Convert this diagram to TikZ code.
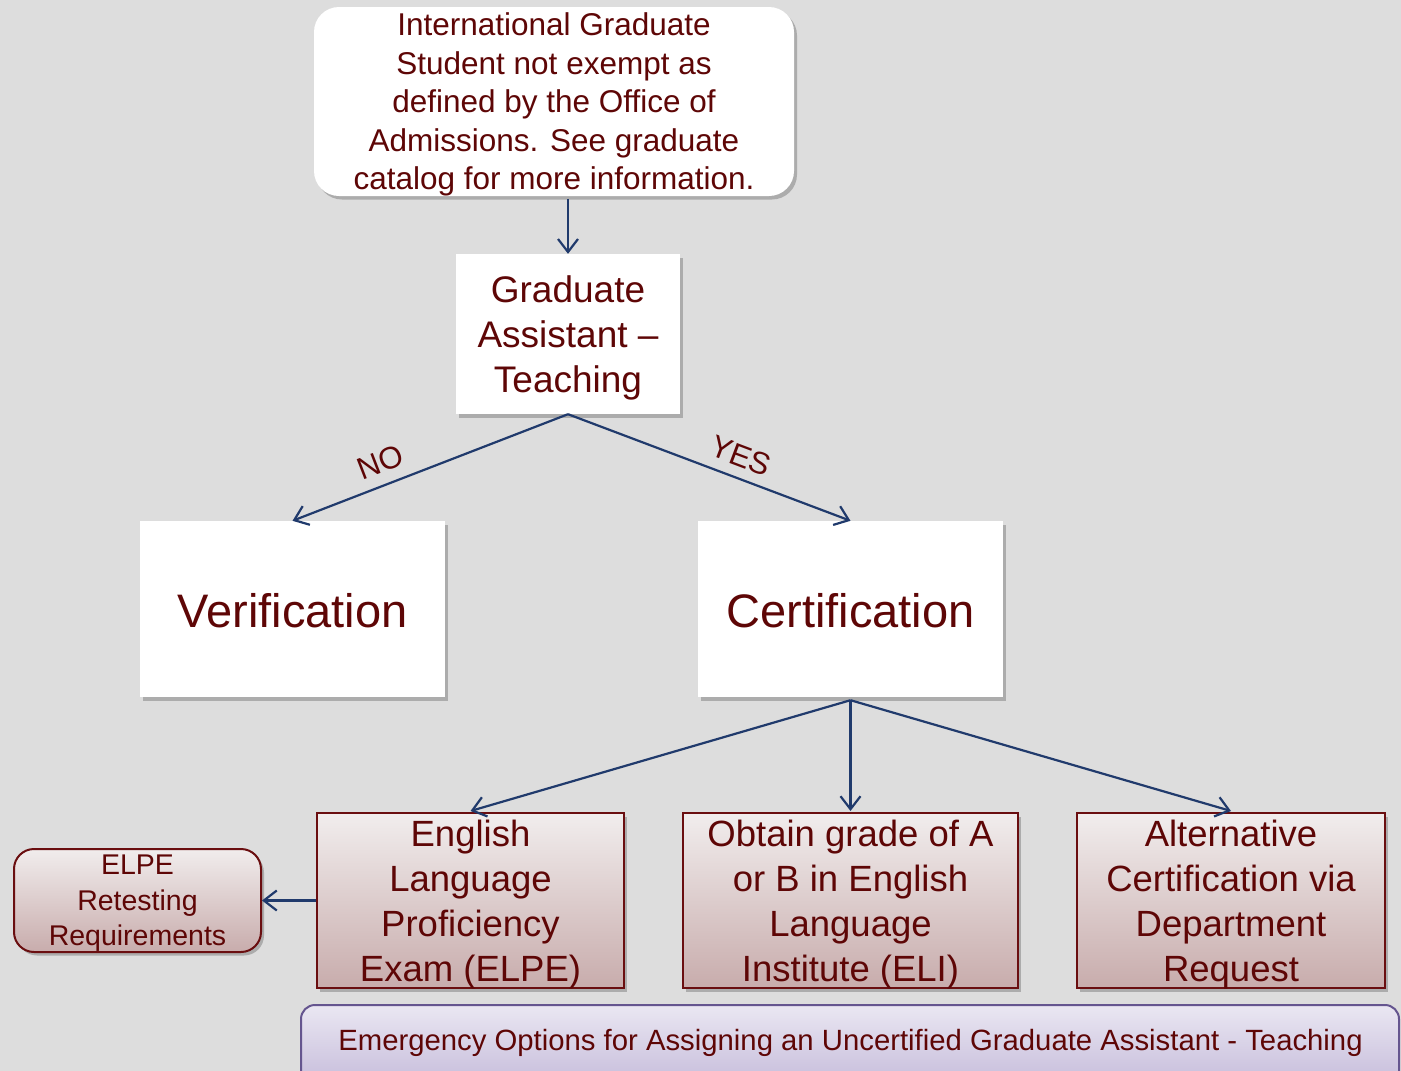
\documentclass[tikz,border=0pt]{standalone}
\usepackage{fontspec}
\setmainfont{Liberation Sans}
\usetikzlibrary{arrows.meta,shadows}
\definecolor{bg}{HTML}{DDDDDD}
\definecolor{txt}{HTML}{5E0606}
\definecolor{arrc}{HTML}{203A6C}
\definecolor{mline}{HTML}{6A0E10}
\definecolor{mtop}{HTML}{F1EDED}
\definecolor{mbot}{HTML}{C8ACAC}
\definecolor{pline}{HTML}{65558F}
\definecolor{ptop}{HTML}{EAE7F2}
\definecolor{pbot}{HTML}{C6BCDB}
\tikzset{
  shad/.style={drop shadow={shadow xshift=3pt, shadow yshift=-3.5pt, opacity=0.22, fill=black}},
  wbox/.style={fill=white, draw=none, shad, text=txt, align=center, inner sep=0pt},
  mbox/.style={draw=mline, line width=2pt, top color=mtop, bottom color=mbot, shad, text=txt, align=center, inner sep=0pt},
  pbox/.style={draw=pline, line width=2pt, top color=ptop, bottom color=pbot, rounded corners=14pt, inner sep=0pt},
  conn/.style={draw=arrc, line width=2.2pt, -{Straight Barb[length=13pt,width=20pt,line width=2.2pt]}},
  lbl/.style={text=txt, font=\fontsize{31}{34}\selectfont, inner sep=0pt}
}
\begin{document}
\begin{tikzpicture}[x=1pt,y=-1pt]
\useasboundingbox (0,0) rectangle (1401,1071);
\clip (0,0) rectangle (1401,1071);
\fill[bg] (0,0) rectangle (1401,1071);

\node[wbox, rounded corners=25pt, minimum width=480pt, minimum height=189pt, text depth=-1.5pt,
  font=\fontsize{31.5}{38.5}\selectfont] (top) at (554,101.5)
  {International Graduate\\Student not exempt as\\defined by the Office of\\Admissions. See graduate\\catalog for more information.};

\node[wbox, minimum width=224pt, minimum height=160pt, text depth=-2pt,
  font=\fontsize{37}{45}\selectfont] (gat) at (568,334)
  {Graduate\\Assistant --\\Teaching};

\node[wbox, minimum width=305pt, minimum height=176pt, text height=38pt,
  font=\fontsize{47}{56}\selectfont] (ver) at (292.5,609) {Verification};
\node[wbox, minimum width=305pt, minimum height=176pt, text height=38pt,
  font=\fontsize{47}{56}\selectfont] (cer) at (850.5,609) {Certification};

\node[mbox, minimum width=307pt, minimum height=175pt, text depth=-1.5pt,
  font=\fontsize{36.5}{45}\selectfont] (elpe) at (470.5,900.5)
  {English\\Language\\Proficiency\\Exam (ELPE)};
\node[mbox, minimum width=335pt, minimum height=175pt, text depth=-1.5pt,
  font=\fontsize{36.5}{45}\selectfont] (eli) at (850.5,900.5)
  {Obtain grade of A\\or B in English\\Language\\Institute (ELI)};
\node[mbox, minimum width=308pt, minimum height=175pt, text depth=-1.5pt,
  font=\fontsize{36.5}{45}\selectfont] (alt) at (1231,900.5)
  {Alternative\\Certification via\\Department\\Request};

\node[mbox, rounded corners=20pt, minimum width=247pt, minimum height=103pt, text depth=-3pt,
  font=\fontsize{28.5}{35.5}\selectfont] (ret) at (137.5,900.5)
  {ELPE\\Retesting\\Requirements};

\node[pbox, minimum width=1098pt, minimum height=80pt] (emg) at (850,1045) {};
\node[text=txt, font=\fontsize{29.3}{34}\selectfont, inner sep=0pt] (emgt) at (850.5,1042.5)
  {Emergency Options for Assigning an Uncertified Graduate Assistant - Teaching};

\draw[conn] (gat.north |- top.south) ++(0,3) -- (gat.north);
\draw[conn] (gat.south) -- node[lbl, sloped, above=11pt, pos=0.65] (no) {NO} (ver.north);
\draw[conn] (gat.south) -- node[lbl, sloped, above=10pt, pos=0.585] (yes) {YES} (cer.north);
\draw[conn] ([yshift=-3pt]cer.south) -- ([yshift=1pt]elpe.north);
\draw[conn] ([yshift=-3pt]cer.south) -- ([yshift=1pt]eli.north);
\draw[conn] ([yshift=-3pt]cer.south) -- ([yshift=1pt]alt.north);
\draw[conn] (elpe.west) -- (ret.east);
\end{tikzpicture}
\end{document}
